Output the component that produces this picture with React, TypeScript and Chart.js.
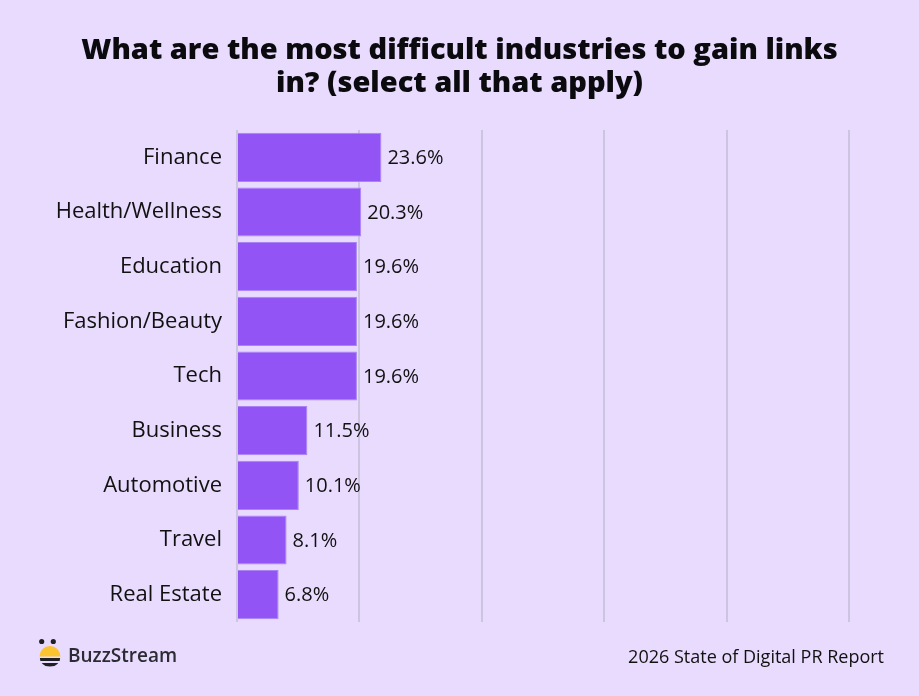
import React, { useEffect, useRef } from "react";
import { Chart, registerables } from "chart.js";

Chart.register(...registerables);

const categories = [
  "Finance",
  "Health/Wellness",
  "Education",
  "Fashion/Beauty",
  "Tech",
  "Business",
  "Automotive",
  "Travel",
  "Real Estate",
];
const shares = [23.6, 20.3, 19.6, 19.6, 19.6, 11.5, 10.1, 8.1, 6.8];
const titleLines = [
  "What are the most difficult industries to gain links",
  "in? (select all that apply)",
];
const brandName = "BuzzStream";
const reportName = "2026 State of Digital PR Report";

const W = 919;
const H = 696;
const BG = "#E9DBFD";
const BAR = "#9254F5";
const GRID = "#CDC4E0";
const FONT = "'Open Sans', 'Noto Sans', sans-serif";

const decorPlugin = {
  id: "decor",
  beforeDraw(chart: any) {
    const { ctx } = chart;
    ctx.save();
    ctx.fillStyle = BG;
    ctx.fillRect(0, 0, chart.width, chart.height);
    ctx.restore();
  },
  afterDraw(chart: any) {
    const { ctx } = chart;
    ctx.save();
    // title
    ctx.fillStyle = "#0b0b0f";
    ctx.font = `800 29px ${FONT}`;
    ctx.textAlign = "center";
    ctx.textBaseline = "middle";
    ctx.fillText(titleLines[0], W / 2, 51);
    ctx.fillText(titleLines[1], W / 2, 84);

    // value labels at bar ends
    const meta = chart.getDatasetMeta(0);
    ctx.font = `500 20px ${FONT}`;
    ctx.textAlign = "left";
    ctx.fillStyle = "#111111";
    meta.data.forEach((bar: any, i: number) => {
      ctx.fillText(`${shares[i]}%`, bar.x + 6, bar.y + 1);
    });

    // footer: logo mark
    ctx.fillStyle = "#1f1f24";
    ctx.beginPath();
    ctx.arc(41.7, 641.5, 2.6, 0, Math.PI * 2);
    ctx.arc(53.3, 641.5, 2.6, 0, Math.PI * 2);
    ctx.fill();
    const cx = 50, cy = 656.5, r = 10.5;
    ctx.fillStyle = "#FCC331";
    ctx.beginPath();
    ctx.arc(cx, cy, r, Math.PI, 0);
    ctx.closePath();
    ctx.fill();
    ctx.save();
    ctx.beginPath();
    ctx.arc(cx, cy, r, 0, Math.PI);
    ctx.closePath();
    ctx.clip();
    ctx.fillStyle = "#1f1f24";
    ctx.fillRect(cx - r, cy + 1.5, 2 * r, 3);
    ctx.fillRect(cx - r, cy + 6.5, 2 * r, 3.5);
    ctx.restore();

    // footer texts
    ctx.fillStyle = "#2b2b33";
    ctx.font = `600 19px ${FONT}`;
    ctx.textAlign = "left";
    ctx.fillText(brandName, 68, 657);
    ctx.fillStyle = "#111111";
    ctx.font = `500 18px ${FONT}`;
    ctx.textAlign = "right";
    ctx.fillText(reportName, 884, 658);
    ctx.restore();
  },
};

export default function App() {
  const ref = useRef<HTMLCanvasElement | null>(null);

  useEffect(() => {
    document.body.style.margin = "0";
    const canvas = ref.current;
    if (!canvas) return;
    const chart = new Chart(canvas, {
      type: "bar",
      data: {
        labels: categories,
        datasets: [
          {
            data: shares,
            backgroundColor: BAR,
            borderColor: "#A983F6",
            borderWidth: 1,
            barPercentage: 0.9,
            categoryPercentage: 1,
          },
        ],
      },
      options: {
        indexAxis: "y",
        animation: false,
        responsive: false,
        maintainAspectRatio: false,
        devicePixelRatio: 1,
        layout: { padding: { top: 130, right: 70, bottom: 74, left: 0 } },
        plugins: {
          legend: { display: false },
          tooltip: { enabled: false },
          title: { display: false },
        },
        scales: {
          x: {
            min: 0,
            max: 100,
            ticks: { display: false, stepSize: 20 },
            grid: { color: GRID, lineWidth: 2, drawTicks: false },
            border: { display: false },
            afterFit(axis: any) {
              axis.height = 0;
            },
          },
          y: {
            grid: { display: false, drawTicks: false },
            border: { display: false },
            ticks: {
              color: "#111111",
              padding: 15,
              font: { family: FONT, size: 22, weight: "400" },
            },
            afterFit(axis: any) {
              axis.width = 237;
            },
          },
        },
      },
      plugins: [decorPlugin],
    });
    return () => chart.destroy();
  }, []);

  return (
    <div style={{ width: W, height: H, background: BG }}>
      <canvas ref={ref} width={W} height={H} style={{ display: "block" }} />
    </div>
  );
}
